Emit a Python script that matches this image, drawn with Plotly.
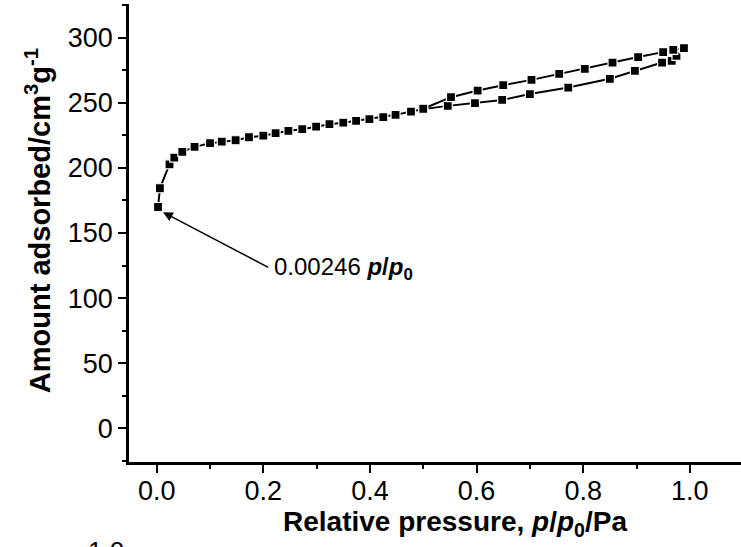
import plotly.graph_objects as go

# Adsorption branch (relative pressure, amount adsorbed cm3/g)
ads_x = [0.00246, 0.006, 0.024, 0.033, 0.048, 0.071, 0.100, 0.122, 0.148, 0.173,
         0.200, 0.223, 0.247, 0.273, 0.299, 0.324, 0.350, 0.374, 0.399, 0.425,
         0.448, 0.477, 0.500, 0.546, 0.597, 0.648, 0.700, 0.772, 0.850, 0.897,
         0.948, 0.966, 0.975, 0.989]
ads_y = [170.0, 184.4, 202.8, 207.9, 212.3, 216.2, 219.0, 220.2, 221.3, 223.6,
         224.8, 226.7, 228.5, 229.8, 231.8, 233.6, 234.8, 236.2, 237.5, 239.0,
         240.8, 243.3, 245.2, 247.7, 249.8, 252.3, 256.8, 261.8, 268.5, 274.6,
         281.0, 282.3, 286.2, 292.1]

# Desorption branch
des_x = [0.989, 0.969, 0.950, 0.903, 0.855, 0.803, 0.755, 0.703, 0.650, 0.602, 0.552, 0.500]
des_y = [292.1, 290.8, 289.0, 285.2, 281.0, 276.2, 272.3, 267.7, 263.6, 259.5, 254.4, 245.5]

x_ticks = [0.0, 0.2, 0.4, 0.6, 0.8, 1.0]
y_ticks = [0, 50, 100, 150, 200, 250, 300]

FONT = "Liberation Sans, Arial, sans-serif"

marker = dict(symbol="square", size=9, color="black", line=dict(color="white", width=1.2))
line = dict(color="black", width=2)

fig = go.Figure()
fig.add_trace(go.Scatter(x=ads_x, y=ads_y, mode="lines+markers", marker=marker, line=line,
                         showlegend=False, cliponaxis=False))
fig.add_trace(go.Scatter(x=des_x, y=des_y, mode="lines+markers", marker=marker, line=line,
                         showlegend=False, cliponaxis=False))

axis_common = dict(showline=True, linecolor="black", linewidth=2.5, ticks="outside",
                   ticklen=8, tickwidth=2, tickcolor="black", showgrid=False, zeroline=False,
                   tickfont=dict(family=FONT, size=27, color="black"))

fig.update_xaxes(range=[-0.052, 1.096], tickvals=x_ticks, ticktext=[f"{v:.1f}" for v in x_ticks],
                 ticklabelstandoff=-5,
                 minor=dict(dtick=0.1, tick0=0, ticks="outside", ticklen=4, tickwidth=2,
                            tickcolor="black"),
                 **axis_common)
fig.update_yaxes(range=[-26, 326], tickvals=y_ticks,
                 minor=dict(dtick=25, tick0=0, ticks="outside", ticklen=4, tickwidth=2,
                            tickcolor="black"),
                 **axis_common)

annotations = [
    dict(text="<b>Amount adsorbed/cm<sup>3</sup>g<sup>-1</sup></b>", textangle=-90,
         xref="paper", yref="paper", x=-0.1487, y=0.528, xanchor="center", yanchor="middle",
         showarrow=False, font=dict(family=FONT, size=29, color="black")),
    dict(text="<b>Relative pressure, <i>p</i>/<i>p</i><sub>0</sub>/Pa</b>",
         xref="paper", yref="paper", x=0.533, y=-0.135, xanchor="center", yanchor="middle",
         showarrow=False, font=dict(family=FONT, size=28, color="black")),
    dict(text="", xref="x", yref="y", x=0.0118, y=166, axref="x", ayref="y", ax=0.212, ay=123,
         showarrow=True, arrowhead=2, arrowsize=1.3, arrowwidth=1.5, arrowcolor="black"),
    dict(text="0.00246 <b><i>p</i>/<i>p</i><sub>0</sub></b>", xref="x", yref="y",
         x=0.2166, y=123, xanchor="left", yanchor="middle", showarrow=False,
         font=dict(family=FONT, size=24, color="black")),
    dict(text="1.0", xref="paper", yref="paper", x=-0.0376, y=-0.158, xanchor="center",
         yanchor="top", showarrow=False, font=dict(family=FONT, size=26, color="black")),
]

fig.update_layout(width=741, height=547, autosize=False,
                  margin=dict(l=129, r=0, t=4, b=85, pad=0, autoexpand=False),
                  plot_bgcolor="white", paper_bgcolor="white",
                  font=dict(family=FONT, color="black"),
                  annotations=annotations)

fig.write_html("out.html", config={"displayModeBar": False},
               post_script="document.body.style.margin='0px';document.body.style.overflow='hidden';")
